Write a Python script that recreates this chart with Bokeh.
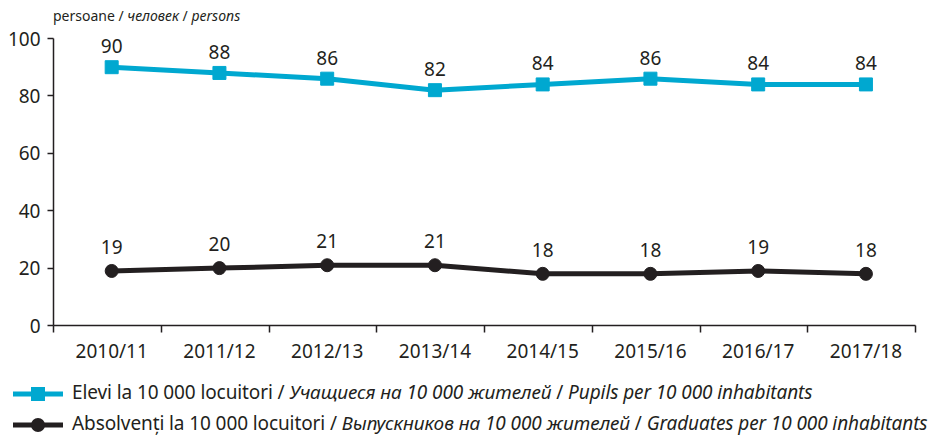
from bokeh.plotting import figure
from bokeh.models import FixedTicker, Div, ColumnDataSource
from bokeh.layouts import column
from bokeh.core.properties import value
from bokeh.embed import file_html
from bokeh.resources import INLINE

years = ["2010/11", "2011/12", "2012/13", "2013/14", "2014/15", "2015/16", "2016/17", "2017/18"]
pupils = [90, 88, 86, 82, 84, 86, 84, 84]
graduates = [19, 20, 21, 21, 18, 18, 19, 18]
y_ticks = [0, 20, 40, 60, 80, 100]

BLUE = "#00A8D0"
DARK = "#231F20"
FONT = "Noto Sans"

xs = list(range(len(years)))
off = 0.04
src = ColumnDataSource(dict(x=xs, pupils=pupils, graduates=graduates,
                            pl=[str(v) for v in pupils], gl=[str(v) for v in graduates]))

p = figure(width=926, height=341, x_range=(-0.5 - off, len(years) - 0.5 - off), y_range=(0, 100),
           output_backend="svg", toolbar_location=None,
           min_border_left=53, min_border_right=11, min_border_top=13, min_border_bottom=40)
p.outline_line_color = None
p.xgrid.visible = False
p.ygrid.visible = False
p.background_fill_color = "white"
p.border_fill_color = None

p.line("x", "pupils", source=src, line_color=BLUE, line_width=5)
p.scatter("x", "pupils", source=src, marker="square", size=13, fill_color=BLUE, line_color=BLUE)
p.line("x", "graduates", source=src, line_color=DARK, line_width=5)
p.scatter("x", "graduates", source=src, marker="circle", size=13, fill_color=DARK, line_color=DARK)

p.text("x", "pupils", text="pl", source=src, text_align="center", text_baseline="alphabetic",
       y_offset=-21, text_font=value(FONT), text_font_size="19px", text_color=DARK)
p.text("x", "graduates", text="gl", source=src, text_align="center", text_baseline="alphabetic",
       y_offset=-24, text_font=value(FONT), text_font_size="19px", text_color=DARK)

p.xaxis.ticker = FixedTicker(ticks=xs, minor_ticks=[i - 0.5 - off for i in range(len(years) + 1)])
p.xaxis.major_label_overrides = {i: y for i, y in enumerate(years)}
p.xaxis.major_tick_out = 0
p.xaxis.major_tick_in = 0
p.xaxis.minor_tick_out = 7
p.xaxis.minor_tick_in = 0
p.xaxis.minor_tick_line_color = DARK
p.xaxis.minor_tick_line_width = 1.5
p.xaxis.axis_line_color = DARK
p.xaxis.axis_line_width = 1.5
p.xaxis.major_label_standoff = 5

p.yaxis.ticker = FixedTicker(ticks=y_ticks, minor_ticks=[])
p.yaxis.major_tick_out = 6
p.yaxis.major_tick_in = 0
p.yaxis.major_tick_line_color = DARK
p.yaxis.major_tick_line_width = 1.5
p.yaxis.axis_line_color = DARK
p.yaxis.axis_line_width = 1.5
p.yaxis.major_label_standoff = 7

for ax in (p.xaxis, p.yaxis):
    ax.major_label_text_font = FONT
    ax.major_label_text_font_size = "19px"
    ax.major_label_text_color = DARK

title = Div(text='persoane / <i>человек</i> / <i>persons</i>', width=600, height=15,
            styles={"font-family": FONT, "font-size": "14px", "color": DARK,
                    "padding-left": "48px", "padding-top": "2px",
                    "line-height": "17px", "white-space": "nowrap"})

def icon(color, shape):
    if shape == "square":
        m = f'<rect x="18" y="1" width="14" height="14" fill="{color}"/>'
    else:
        m = f'<circle cx="25" cy="8" r="7" fill="{color}"/>'
    return (f'<svg width="50" height="16" style="vertical-align:middle;margin-right:9px">'
            f'<line x1="0" y1="8" x2="50" y2="8" stroke="{color}" stroke-width="5" stroke-linecap="round"/>{m}</svg>')

legend_html = (
    '<div style="height:31px;line-height:31px;white-space:nowrap">' + icon(BLUE, "square") +
    'Elevi la 10 000 locuitori / <i>Учащиеся на 10 000 жителей</i> / <i>Pupils per 10 000 inhabitants</i></div>'
    '<div style="height:31px;line-height:31px;white-space:nowrap">' + icon(DARK, "circle") +
    'Absolvenți la 10 000 locuitori / <i>Выпускников на 10 000 жителей</i> / <i>Graduates per 10 000 inhabitants</i></div>'
)
legend = Div(text=legend_html, width=926, height=68,
             styles={"font-family": FONT, "font-size": "19px", "color": DARK,
                     "padding-left": "8px", "padding-top": "6px", "letter-spacing": "-0.1px"})

layout = column(title, p, legend, spacing=0)
open("out.html", "w").write(file_html(layout, INLINE))
